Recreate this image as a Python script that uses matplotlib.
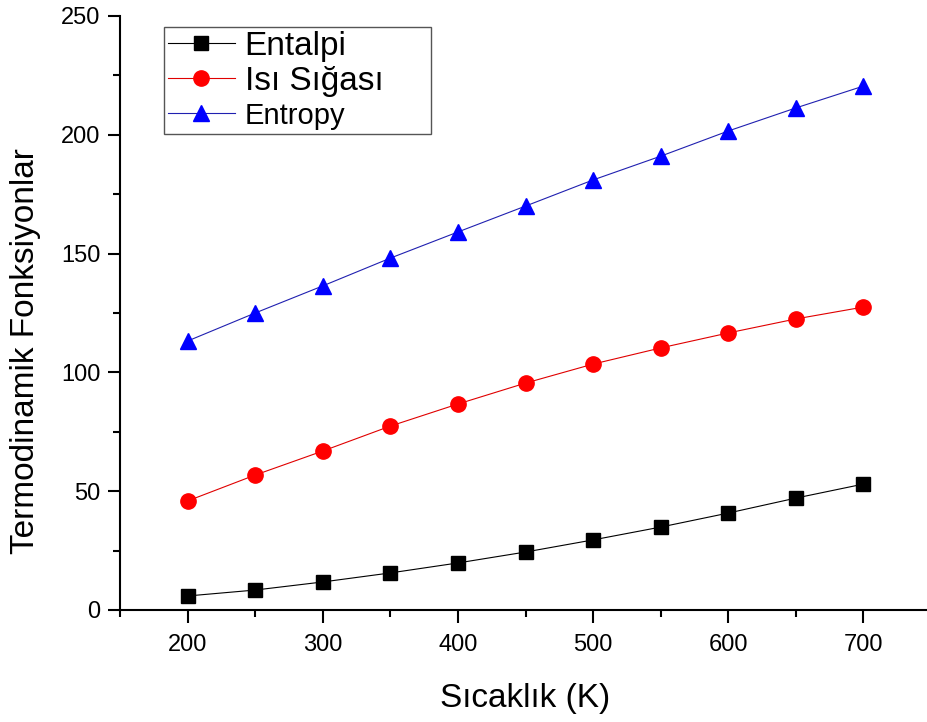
import numpy as np
import matplotlib.pyplot as plt
from matplotlib.ticker import MultipleLocator

plt.rcParams['font.family'] = ['Liberation Sans', 'DejaVu Sans']

# sicaklik (K)
T = [200, 250, 300, 350, 400, 450, 500, 550, 600, 650, 700]
# termodinamik fonksiyonlar
entalpi = [5.9, 8.4, 11.8, 15.6, 19.8, 24.4, 29.5, 34.9, 40.8, 47.1, 53.0]
isi_sigasi = [45.9, 56.8, 66.9, 77.4, 86.7, 95.5, 103.5, 110.3, 116.6, 122.5, 127.5]
entropy = [113.2, 125.0, 136.4, 148.1, 159.1, 170.0, 181.0, 191.0, 201.6, 211.3, 220.5]

fig = plt.figure(figsize=(9.28, 7.22), dpi=100)
ax = fig.add_axes([120/928, 112/722, 811/928, 594/722])

ax.plot(T, entalpi, '-s', color='black', lw=0.8, ms=10, label='Entalpi')
ax.plot(T, isi_sigasi, '-o', color='#e00000', mfc='#ff0000', mec='#ff0000',
        lw=0.8, ms=11, label='Isı Sığası')
ax.plot(T, entropy, '-^', color='#2020b0', mfc='#0000ff', mec='#0000ff',
        lw=0.8, ms=12, label='Entropy')

ax.set_xlim(150, 750)
ax.set_ylim(0, 250)
ax.xaxis.set_major_locator(MultipleLocator(100))
ax.xaxis.set_minor_locator(MultipleLocator(50))
ax.yaxis.set_major_locator(MultipleLocator(50))
ax.yaxis.set_minor_locator(MultipleLocator(25))

for s in ['top', 'right']:
    ax.spines[s].set_visible(False)
for s in ['left', 'bottom']:
    ax.spines[s].set_linewidth(1.5)

ax.tick_params(which='major', direction='out', length=9, width=1.5, labelsize=17)
ax.tick_params(axis='x', which='major', pad=8)
ax.tick_params(axis='y', which='major', pad=5)
ax.tick_params(which='minor', direction='out', length=5, width=1.5)

ax.set_xlabel('Sıcaklık (K)', fontsize=24, labelpad=20)
ax.set_ylabel('Termodinamik Fonksiyonlar', fontsize=24)
ax.yaxis.set_label_coords(-0.098, 0.436)

# kutu genisligi sabit, mode='expand' ile
leg = ax.legend(loc='upper left', bbox_to_anchor=(44/811, 577/594, 267/811, 0.01),
                mode='expand', fontsize=24,
                fancybox=False, framealpha=1, edgecolor='#555555',
                handlelength=2.0, handletextpad=0.3, borderpad=0.12,
                labelspacing=0.12, borderaxespad=0)
leg.get_frame().set_linewidth(1.0)
leg.get_texts()[2].set_fontsize(21)

fig.savefig('out.png', dpi=100)
